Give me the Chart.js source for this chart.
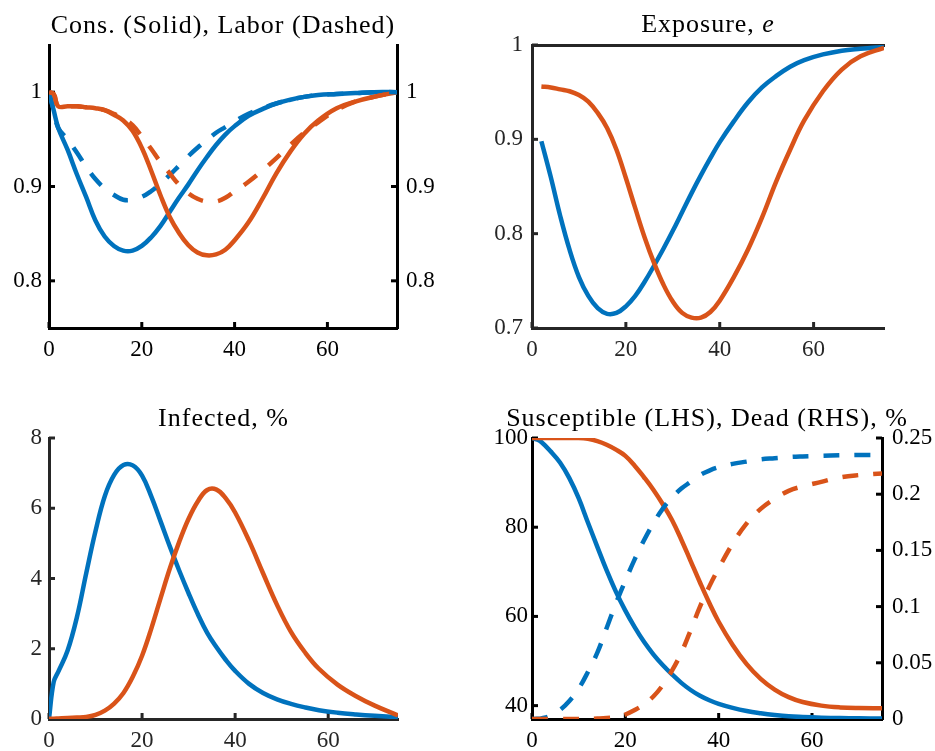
<!DOCTYPE html>
<html>
<head>
<meta charset="utf-8">
<script src="https://cdn.jsdelivr.net/npm/chart.js@4.4.1/dist/chart.umd.min.js"></script>
<style>
  html, body { margin: 0; padding: 0; background: #fff; }
  body { width: 935px; height: 751px; position: relative; overflow: hidden; }
  .panel { position: absolute; }
</style>
</head>
<body>
<div class="panel" style="left:0;top:0"><canvas id="cons" width="467" height="375"></canvas></div>
<div class="panel" style="left:467px;top:0"><canvas id="expo" width="468" height="375"></canvas></div>
<div class="panel" style="left:0;top:375px"><canvas id="inf" width="467" height="376"></canvas></div>
<div class="panel" style="left:467px;top:375px"><canvas id="sus" width="468" height="376"></canvas></div>
<script>
const FONT = "'Liberation Serif', 'Times New Roman', serif";
const BLUE = "#0072BD";
const ORANGE = "#D95319";
const DASH = [16, 15];

// time grid shared by all series
const T = [0, 1, 2, 4, 6, 8, 10, 12, 14, 16, 18, 20, 22, 24, 26, 28, 30, 32, 34, 36,
           38, 40, 43, 46, 49, 52, 55, 58, 62, 66, 70, 75];
const X_TICKS = [0, 20, 40, 60];

// consumption (solid) and labor (dashed), two scenarios
const consA = [1.000, 0.981, 0.962, 0.939, 0.913, 0.889, 0.864, 0.847, 0.837, 0.832, 0.832, 0.837, 0.846, 0.858, 0.873, 0.888, 0.902, 0.917, 0.931, 0.944,
               0.955, 0.964, 0.975, 0.982, 0.988, 0.992, 0.995, 0.997, 0.998, 0.999, 1.000, 1.000];
const laborA = [1.000, 0.981, 0.962, 0.950, 0.936, 0.921, 0.908, 0.898, 0.891, 0.886, 0.886, 0.889, 0.895, 0.903, 0.912, 0.922, 0.932, 0.941, 0.949, 0.957,
                0.963, 0.969, 0.977, 0.983, 0.988, 0.992, 0.995, 0.997, 0.998, 0.999, 1.000, 1.000];
const consB = [1.000, 0.998, 0.985, 0.985, 0.985, 0.984, 0.983, 0.981, 0.976, 0.970, 0.959, 0.941, 0.917, 0.891, 0.868, 0.851, 0.838, 0.830, 0.827, 0.828,
               0.833, 0.843, 0.862, 0.887, 0.914, 0.937, 0.956, 0.970, 0.983, 0.990, 0.995, 1.000];
const laborB = [1.000, 0.998, 0.985, 0.985, 0.985, 0.984, 0.983, 0.981, 0.977, 0.972, 0.965, 0.953, 0.940, 0.926, 0.914, 0.902, 0.893, 0.887, 0.884, 0.884,
                0.888, 0.895, 0.905, 0.917, 0.930, 0.944, 0.957, 0.968, 0.981, 0.990, 0.995, 1.000];
const consTicks = [0.8, 0.9, 1];

// exposure (starts at t = 2)
const expoA = [null, null, 0.898, 0.860, 0.819, 0.783, 0.754, 0.734, 0.721, 0.715, 0.716, 0.723, 0.734, 0.749, 0.766, 0.784, 0.803, 0.823, 0.843, 0.862,
               0.880, 0.897, 0.919, 0.939, 0.955, 0.967, 0.977, 0.984, 0.990, 0.994, 0.996, 0.998];
const expoB = [null, null, 0.956, 0.955, 0.953, 0.951, 0.947, 0.940, 0.928, 0.912, 0.889, 0.859, 0.827, 0.796, 0.769, 0.746, 0.728, 0.716, 0.711, 0.711,
               0.717, 0.729, 0.754, 0.783, 0.817, 0.855, 0.889, 0.920, 0.951, 0.974, 0.988, 0.997];
const expoTicks = [0.7, 0.8, 0.9, 1];

// infected, %
const infA = [0, 1.05, 1.35, 1.95, 2.9, 4.15, 5.35, 6.35, 6.95, 7.23, 7.22, 6.93, 6.33, 5.62, 4.9, 4.22, 3.58, 2.98, 2.45, 2.04,
              1.68, 1.37, 1.0, 0.74, 0.56, 0.43, 0.33, 0.25, 0.18, 0.13, 0.09, 0.05];
const infB = [0.01, 0.01, 0.015, 0.025, 0.04, 0.06, 0.12, 0.24, 0.44, 0.74, 1.2, 1.8, 2.58, 3.45, 4.3, 5.05, 5.7, 6.2, 6.52, 6.53,
              6.28, 5.88, 5.07, 4.15, 3.25, 2.48, 1.9, 1.43, 0.98, 0.65, 0.38, 0.1];
const infTicks = [0, 2, 4, 6, 8];

// susceptible (LHS) and dead (RHS), %
const susA = [100, 99.7, 99.1, 97.0, 94.5, 91.0, 86.5, 81.0, 75.6, 70.3, 65.5, 61.3, 57.6, 54.3, 51.5, 49.1, 47.0, 45.1, 43.5, 42.2,
              41.2, 40.4, 39.5, 38.8, 38.3, 37.9, 37.6, 37.45, 37.3, 37.2, 37.15, 37.1];
const susB = [100, 100, 100, 100, 100, 100, 100, 99.8, 99.3, 98.5, 97.4, 96.0, 93.8, 91.2, 88.4, 85.2, 81.6, 77.2, 72.4, 67.6,
              63.0, 58.8, 53.6, 49.3, 46.0, 43.6, 41.9, 40.8, 40.0, 39.6, 39.45, 39.4];
const deadA = [0, 0.0002, 0.0006, 0.003, 0.008, 0.016, 0.027, 0.042, 0.059, 0.081, 0.103, 0.123, 0.142, 0.159, 0.174, 0.187, 0.197, 0.205, 0.211, 0.217,
               0.221, 0.224, 0.227, 0.229, 0.231, 0.232, 0.233, 0.2336, 0.2342, 0.2346, 0.2349, 0.235];
const deadB = [0, 0, 0, 0, 0, 0, 0.0001, 0.0002, 0.0004, 0.0008, 0.0017, 0.004, 0.008, 0.013, 0.020, 0.030, 0.043, 0.059, 0.079, 0.100,
               0.118, 0.134, 0.156, 0.174, 0.187, 0.196, 0.203, 0.207, 0.211, 0.215, 0.217, 0.2185];
const susTicks = [40, 60, 80, 100];
const deadTicks = [0, 0.05, 0.1, 0.15, 0.2, 0.25];

const pts = ys => T.map((x, i) => ({ x, y: ys[i] }));

function line(data, color, opts = {}) {
  return Object.assign({
    data: pts(data),
    borderColor: color,
    borderWidth: 4.5,
    pointRadius: 0,
    fill: false,
    tension: 0.4,
    borderCapStyle: "butt",
  }, opts);
}

// title drawn centred over the plot area, with optional italic pieces
const panelTitle = {
  id: "panelTitle",
  afterDraw(chart, args, o) {
    if (!o.parts) return;
    const { ctx, chartArea } = chart;
    ctx.save();
    ctx.fillStyle = "#000";
    ctx.textBaseline = "alphabetic";
    ctx.textAlign = "left";
    ctx.letterSpacing = "1px";
    const parts = o.parts.map(p => {
      ctx.font = (p.italic ? "italic " : "") + "26px " + FONT;
      return { ...p, w: ctx.measureText(p.text).width };
    });
    const total = parts.reduce((s, p) => s + p.w, 0);
    let x = (chartArea.left + chartArea.right) / 2 - total / 2;
    parts.forEach(p => {
      ctx.font = (p.italic ? "italic " : "") + "26px " + FONT;
      ctx.fillText(p.text, x, o.y);
      x += p.w;
    });
    ctx.restore();
  },
};

// MATLAB-like tick marks pointing into the plot
const inTicks = {
  id: "inTicks",
  beforeDatasetsDraw(chart, args, o) {
    if (!o.ids) return;
    const { ctx, chartArea } = chart;
    ctx.save();
    ctx.lineWidth = 3;
    ctx.strokeStyle = o.color || "#000";
    o.ids.forEach(id => {
      const s = chart.scales[id];
      s.ticks.forEach(t => {
        const p = s.getPixelForValue(t.value);
        ctx.beginPath();
        if (s.position === "bottom") { ctx.moveTo(p, chartArea.bottom); ctx.lineTo(p, chartArea.bottom - 6); }
        else if (s.position === "left") { ctx.moveTo(chartArea.left, p); ctx.lineTo(chartArea.left + 6, p); }
        else if (s.position === "right") { ctx.moveTo(chartArea.right, p); ctx.lineTo(chartArea.right - 6, p); }
        ctx.stroke();
      });
    });
    ctx.restore();
  },
};

Chart.register(panelTitle, inTicks);

function xAxis(color, height) {
  return {
    type: "linear", position: "bottom", min: 0, max: 75,
    afterBuildTicks: s => { s.ticks = X_TICKS.map(v => ({ value: v })); },
    afterFit: s => { s.height = height; },
    grid: { display: false, drawTicks: false },
    border: { display: true, width: 3, color },
    ticks: { padding: 8, color, font: { family: FONT, size: 23 }, callback: v => String(v) },
  };
}

function yAxis(pos, min, max, tickVals, width, pad, color) {
  return {
    type: "linear", position: pos, min, max,
    afterBuildTicks: s => { s.ticks = tickVals.map(v => ({ value: v })); },
    afterFit: s => { s.width = width; },
    grid: { display: false, drawTicks: false },
    border: { display: true, width: 3, color },
    ticks: { padding: pad, color, font: { family: FONT, size: 23 }, callback: v => String(v) },
  };
}

function baseOptions(padding, scales, title, tickIds, color) {
  return {
    responsive: false,
    animation: false,
    layout: { padding },
    scales,
    plugins: {
      legend: { display: false },
      tooltip: { enabled: false },
      panelTitle: title,
      inTicks: { ids: tickIds, color },
    },
  };
}

// Cons. (Solid), Labor (Dashed)
new Chart(document.getElementById("cons"), {
  type: "line",
  data: {
    datasets: [
      line(laborB, ORANGE, { borderDash: DASH, order: 0 }),
      line(laborA, BLUE, { borderDash: DASH, order: 1 }),
      line(consB, ORANGE, { order: 2 }),
      line(consA, BLUE, { order: 3 }),
    ],
  },
  options: baseOptions(
    { top: 45, left: 0, right: 0, bottom: 0 },
    {
      x: xAxis("#000", 47),
      y: yAxis("left", 0.75, 1.05, consTicks, 49, 7, "#000"),
      y1: yAxis("right", 0.75, 1.05, consTicks, 70, 9, "#000"),
    },
    { parts: [{ text: "Cons. (Solid), Labor (Dashed)" }], y: 33 },
    ["x", "y", "y1"], "#000"),
});

// Exposure, e
new Chart(document.getElementById("expo"), {
  type: "line",
  data: {
    datasets: [
      line(expoB, ORANGE, { order: 0 }),
      line(expoA, BLUE, { order: 1 }),
    ],
  },
  options: baseOptions(
    { top: 45, left: 0, right: 51, bottom: 0 },
    {
      x: xAxis("#262626", 47),
      xTop: {
        type: "linear", position: "top", min: 0, max: 75,
        afterFit: s => { s.height = 0; },
        grid: { display: false, drawTicks: false },
        border: { display: true, width: 3, color: "#262626" },
        ticks: { display: false },
      },
      y: yAxis("left", 0.7, 1, expoTicks, 65, 9, "#262626"),
    },
    { parts: [{ text: "Exposure, " }, { text: "e", italic: true }], y: 32 },
    ["x", "y"], "#262626"),
});

// Infected, %
new Chart(document.getElementById("inf"), {
  type: "line",
  data: {
    datasets: [
      line(infB, ORANGE, { order: 0 }),
      line(infA, BLUE, { order: 1 }),
    ],
  },
  options: baseOptions(
    { top: 63, left: 0, right: 69, bottom: 0 },
    {
      x: xAxis("#262626", 32),
      y: yAxis("left", 0, 8, infTicks, 49, 7, "#262626"),
    },
    { parts: [{ text: "Infected, %" }], y: 51 },
    ["x", "y"], "#262626"),
});

// Susceptible (LHS), Dead (RHS), %
new Chart(document.getElementById("sus"), {
  type: "line",
  data: {
    datasets: [
      line(deadB, ORANGE, { borderDash: DASH, yAxisID: "y1", order: 0 }),
      line(deadA, BLUE, { borderDash: DASH, yAxisID: "y1", order: 1 }),
      line(susB, ORANGE, { order: 2 }),
      line(susA, BLUE, { order: 3 }),
    ],
  },
  options: baseOptions(
    { top: 63, left: 0, right: 0, bottom: 0 },
    {
      x: xAxis("#000", 32),
      y: yAxis("left", 37, 100, susTicks, 65, 4, "#000"),
      y1: yAxis("right", 0, 0.25, deadTicks, 53, 10, "#000"),
    },
    { parts: [{ text: "Susceptible (LHS), Dead (RHS), %" }], y: 51 },
    ["x", "y", "y1"], "#000"),
});
</script>
</body>
</html>
